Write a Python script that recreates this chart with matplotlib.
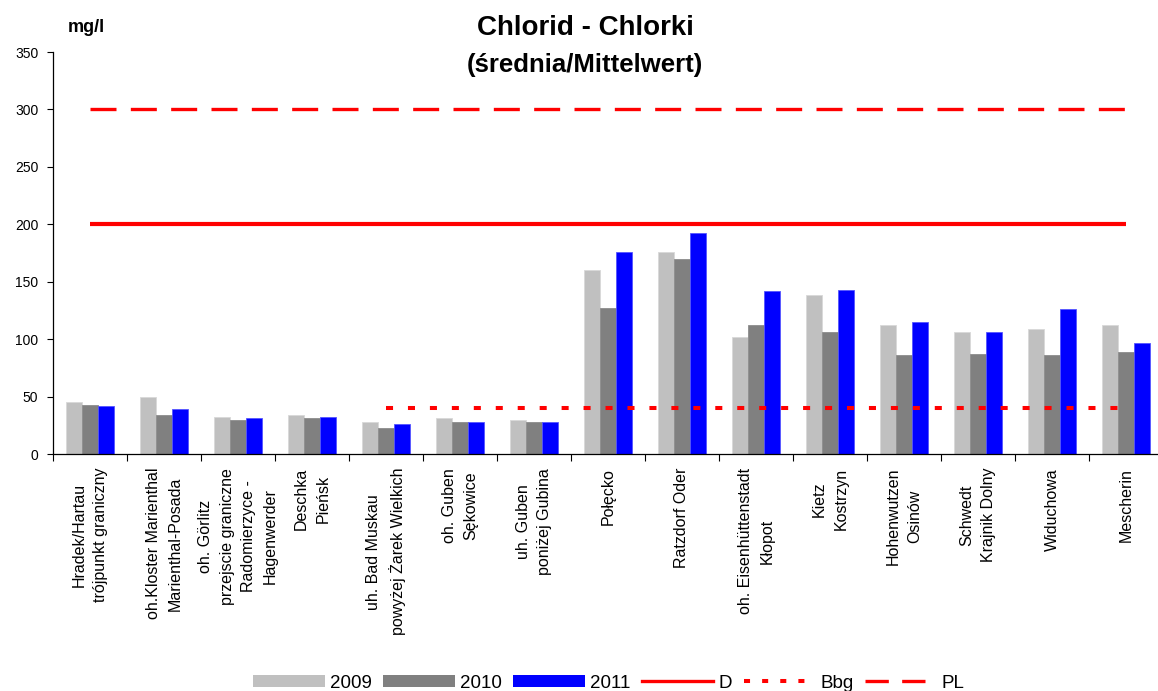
import numpy as np
import matplotlib
matplotlib.use("Agg")
import matplotlib.pyplot as plt
from matplotlib.lines import Line2D
from matplotlib.patches import Patch

plt.rcParams['font.family'] = ['Liberation Sans', 'DejaVu Sans']

categories = [
    "Hradek/Hartau\ntrójpunkt graniczny",
    "oh.Kloster Marienthal\nMarienthal-Posada",
    "oh. Görlitz\nprzejscie graniczne\nRadomierzyce -\nHagenwerder",
    "Deschka\nPieńsk",
    "uh. Bad Muskau\npowyżej Żarek Wielkich",
    "oh. Guben\nSękowice",
    "uh. Guben\nponiżej Gubina",
    "Połęcko",
    "Ratzdorf Oder",
    "oh. Eisenhüttenstadt\nKłopot",
    "Kietz\nKostrzyn",
    "Hohenwutzen\nOsinów",
    "Schwedt\nKrajnik Dolny",
    "Widuchowa",
    "Mescherin",
]

v2009 = [45, 50, 32, 34, 28, 31, 30, 160, 176, 102, 138, 112, 106, 109, 112]
v2010 = [43, 34, 30, 31, 23, 28, 28, 127, 170, 112, 106, 86, 87, 86, 89]
v2011 = [42, 39, 31, 32, 26, 28, 28, 176, 192, 142, 143, 115, 106, 126, 97]

limit_D = [200, 200, 200, 200, 200, 200, 200, 200, 200, 200, 200, 200, 200, 200, 200]
limit_Bbg = [np.nan, np.nan, np.nan, np.nan, 40, 40, 40, 40, 40, 40, 40, 40, 40, 40, 40]
limit_PL = [300, 300, 300, 300, 300, 300, 300, 300, 300, 300, 300, 300, 300, 300, 300]

yticks = [0, 50, 100, 150, 200, 250, 300, 350]

W, H = 1158, 691
fig = plt.figure(figsize=(W / 100, H / 100), dpi=100)
ax = fig.add_axes([53 / W, (H - 454) / H, 1110 / W, 402 / H])

x = np.arange(len(categories))
bw = 0.22
c09, c10, c11 = "#C0C0C0", "#808080", "#0000FF"
ax.bar(x - bw, v2009, bw, color=c09, edgecolor="#D8D8D8", linewidth=0.6, zorder=2)
ax.bar(x, v2010, bw, color=c10, edgecolor="#8C8C8C", linewidth=0.6, zorder=2)
ax.bar(x + bw, v2011, bw, color=c11, edgecolor="#5555FF", linewidth=0.6, zorder=2)

red = "#FF0000"
ax.plot(x, limit_D, color=red, lw=3.0, solid_capstyle="butt", zorder=3)
ax.plot(x, limit_Bbg, color=red, lw=2.9, dashes=(1.75, 3.7), dash_capstyle="butt", zorder=3)
ax.plot(x, limit_PL, color=red, lw=2.4, dashes=(7.8, 4.3), dash_capstyle="butt", zorder=3)

ax.set_xlim(-0.5, len(categories) - 0.5)
ax.set_ylim(0, 350)
ax.set_yticks(yticks)
ax.set_yticklabels([str(v) for v in yticks], fontsize=10)
ax.tick_params(axis="y", direction="out", length=4, width=0.8, pad=6.5)

ax.set_xticks(x)
ax.set_xticklabels(categories, rotation=90, ha="center", va="top",
                   multialignment="center", fontsize=11.5, linespacing=1.55)
ax.set_xticks(np.arange(-0.5, len(categories), 1.0), minor=True)
ax.tick_params(axis="x", which="major", length=0, pad=10)
ax.tick_params(axis="x", which="minor", direction="out", length=5, width=0.8)

for s in ["top", "right"]:
    ax.spines[s].set_visible(False)
for s in ["left", "bottom"]:
    ax.spines[s].set_linewidth(0.9)
    ax.spines[s].set_color("black")

fig.text(585 / W, 1 - 28 / H, "Chlorid - Chlorki", ha="center", va="center",
         fontsize=20, fontweight="bold")
fig.text(585 / W, 1 - 65 / H, "(średnia/Mittelwert)", ha="center", va="center",
         fontsize=18.5, fontweight="bold")
fig.text(86 / W, 1 - 27 / H, "mg/l", ha="center", va="center",
         fontsize=13, fontweight="bold")

handles = [
    Patch(facecolor=c09, edgecolor="none", label="2009"),
    Patch(facecolor=c10, edgecolor="none", label="2010"),
    Patch(facecolor=c11, edgecolor="none", label="2011"),
    Line2D([0], [0], color=red, lw=2.4, label="D"),
    Line2D([0], [0], color=red, lw=2.9, dashes=(1.5, 3.0), label="Bbg"),
    Line2D([0], [0], color=red, lw=2.4, dashes=(7.0, 4.0), label="PL"),
]
fig.legend(handles=handles, loc="center", bbox_to_anchor=(609 / W, 1 - 683 / H),
           ncol=6, frameon=False, fontsize=13.5, handlelength=3.8,
           handletextpad=0.3, columnspacing=0.6, handleheight=0.65, borderpad=0)

fig.savefig("out.png", dpi=100)
